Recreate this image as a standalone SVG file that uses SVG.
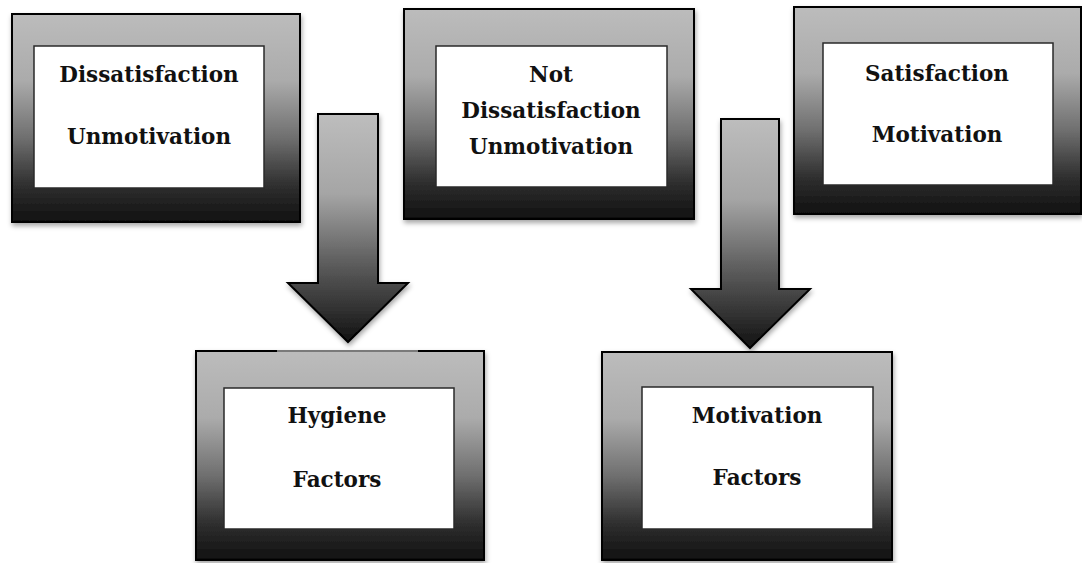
<svg xmlns="http://www.w3.org/2000/svg" width="1082" height="563" viewBox="0 0 1082 563">
  <defs>
    <linearGradient id="frameFill" x1="0" y1="0" x2="0" y2="1">
      <stop offset="0" stop-color="#bcbcbc"/>
      <stop offset="0.32" stop-color="#ababab"/>
      <stop offset="0.6" stop-color="#6e6e6e"/>
      <stop offset="0.82" stop-color="#303030"/>
      <stop offset="1" stop-color="#101010"/>
    </linearGradient>
    <linearGradient id="arrowFill" x1="0" y1="0" x2="0" y2="1">
      <stop offset="0" stop-color="#bdbdbd"/>
      <stop offset="0.35" stop-color="#a5a5a5"/>
      <stop offset="0.65" stop-color="#5e5e5e"/>
      <stop offset="1" stop-color="#121212"/>
    </linearGradient>
    <filter id="shadow" x="-10%" y="-10%" width="125%" height="130%">
      <feDropShadow dx="1" dy="3" stdDeviation="2.5" flood-color="#000" flood-opacity="0.35"/>
    </filter>
  </defs>
  <style>
    .frame { fill: url(#frameFill); stroke: #000; stroke-width: 2; filter: url(#shadow); }
    .panel { fill: #fff; stroke: #2a2a2a; stroke-width: 1.5; }
    .arrow { fill: url(#arrowFill); stroke: #000; stroke-width: 2; stroke-linejoin: miter; filter: url(#shadow); }
    .label { font-family: "DejaVu Serif", "Liberation Serif", serif; font-weight: bold; font-size: 21.5px; fill: #111; text-anchor: middle; }
  </style>

  <rect width="1082" height="563" fill="#fff"/>

  <!-- downward arrows -->
  <g id="connectors">
    <path class="arrow" d="M318,114 H378 V283 H408 L348,342 L288,283 H318 Z"/>
    <path class="arrow" d="M721,119 H779 V289 H810 L750,348 L691,289 H721 Z"/>
  </g>

  <g id="dissatisfaction">
    <rect class="frame" x="12" y="14" width="288" height="208"/>
    <rect class="panel" x="34" y="46" width="230" height="142"/>
    <text class="label" x="149" y="82">Dissatisfaction</text>
    <text class="label" x="149" y="144">Unmotivation</text>
  </g>

  <g id="not-dissatisfaction">
    <rect class="frame" x="404" y="9" width="290" height="210"/>
    <rect class="panel" x="436" y="46" width="231" height="141"/>
    <text class="label" x="551" y="82">Not</text>
    <text class="label" x="551" y="118">Dissatisfaction</text>
    <text class="label" x="551" y="154">Unmotivation</text>
  </g>

  <g id="satisfaction">
    <rect class="frame" x="794" y="7" width="287" height="207"/>
    <rect class="panel" x="823" y="43" width="230" height="142"/>
    <text class="label" x="937" y="81">Satisfaction</text>
    <text class="label" x="937" y="142">Motivation</text>
  </g>

  <g id="hygiene-factors">
    <rect class="frame" x="196" y="351" width="288" height="209"/>
    <line x1="277" y1="351" x2="418" y2="351" stroke="#7a7a7a" stroke-width="2"/>
    <rect class="panel" x="224" y="388" width="230" height="141"/>
    <text class="label" x="337" y="423">Hygiene</text>
    <text class="label" x="337" y="487">Factors</text>
  </g>

  <g id="motivation-factors">
    <rect class="frame" x="602" y="352" width="290" height="208"/>
    <rect class="panel" x="642" y="387" width="231" height="142"/>
    <text class="label" x="757" y="423">Motivation</text>
    <text class="label" x="757" y="485">Factors</text>
  </g>
</svg>
